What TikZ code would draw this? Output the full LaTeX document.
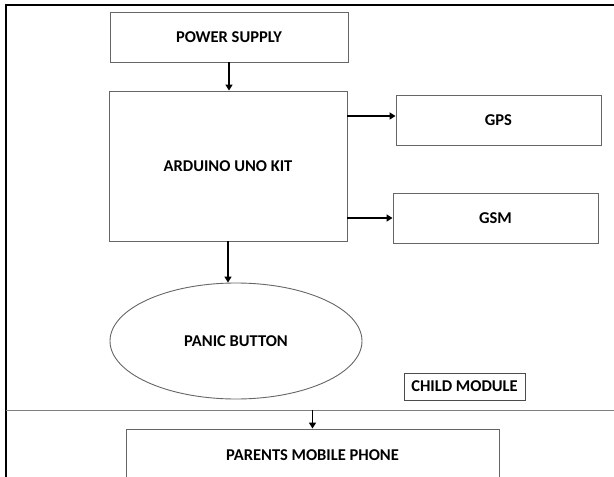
\documentclass[tikz,border=0pt]{standalone}
\usepackage{fontspec}
\setmainfont{Carlito}
\usetikzlibrary{shapes.geometric,arrows.meta}
\begin{document}
\begin{tikzpicture}[x=1pt, y=-1pt,
        unit/.style={rectangle, draw=black!60, line width=0.9pt, inner sep=0pt,
            font=\fontsize{16.5}{19}\selectfont\bfseries},
        flow/.style={-{Triangle[length=6pt,width=7pt]}, line width=1.7pt}]
    \useasboundingbox (0,0) rectangle (614,477);
    \clip (0,0) rectangle (614,477);
    \draw [line width=2pt] (614,5) -- (6,5) -- (6,478);
    \node[unit, minimum width=238, minimum height=50] (power) at (229,37) {POWER SUPPLY};
    \node[unit, minimum width=238, minimum height=150] (arduino) at (228,166) {ARDUINO UNO KIT};
    \node[unit, minimum width=205, minimum height=50] (gps) at (498.5,120) {GPS};
    \node[unit, minimum width=205, minimum height=50] (gsm) at (495.5,218) {GSM};
    \node[unit, ellipse, minimum width=252, minimum height=116] (panic) at (236,341) {PANIC BUTTON};
    \node[unit, draw=black!70, minimum width=121, minimum height=27] (child) at (464.5,386.5) {CHILD MODULE};
    \node[unit, minimum width=373, minimum height=52] (parents) at (312.5,455) {PARENTS MOBILE PHONE};
    \coordinate (sepL) at (6,410);
    \coordinate (sepR) at (614,410);
    \draw [black!50, line width=0.9pt] (sepL) -- (sepR);
    \draw [flow] (power.south) -- (power.south |- arduino.north);
    \draw [flow] ([yshift=4pt]arduino.east |- gps.west) -- ([yshift=4pt]gps.west);
    \draw [flow] (arduino.east |- gsm) -- (gsm.west);
    \draw [flow] (arduino.south) -- (arduino.south |- panic.north);
    \draw [flow] (sepL -| parents.north) -- (parents.north);
\end{tikzpicture}
\end{document}
